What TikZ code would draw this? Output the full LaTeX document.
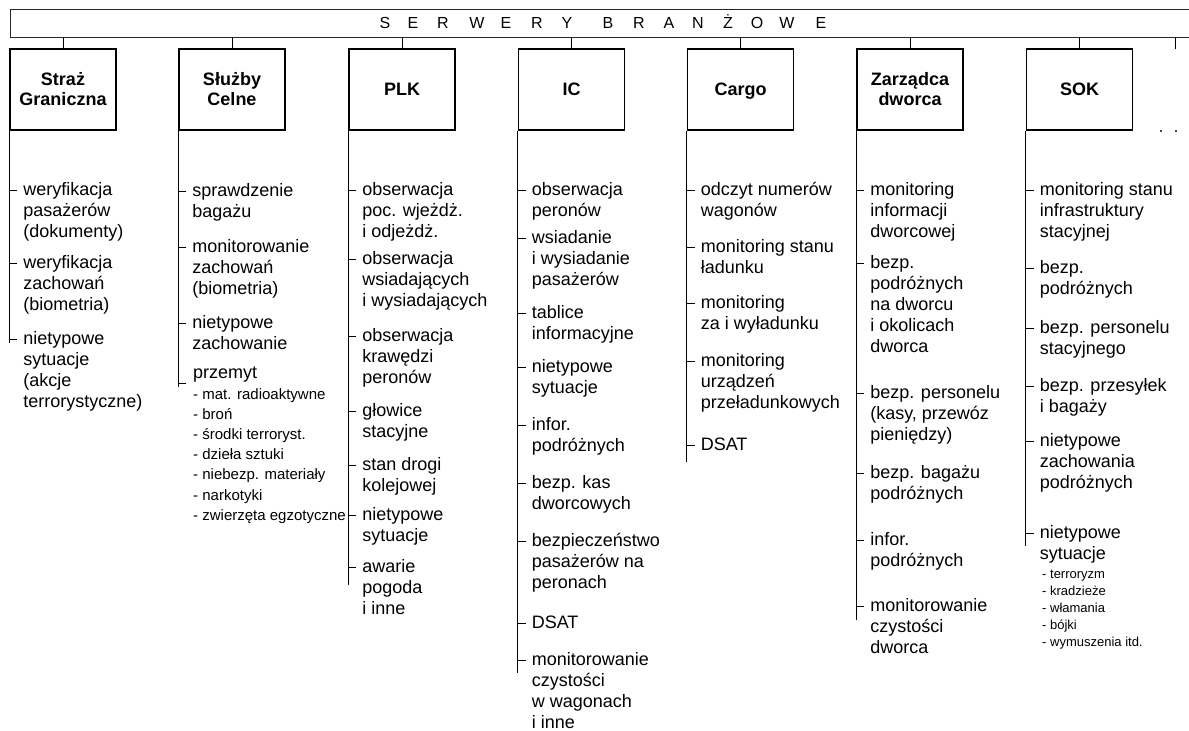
\documentclass[tikz,border=0pt]{standalone}
\usepackage{fontspec}
\setmainfont{Liberation Sans}
\newcommand{\rows}[1]{\begin{tabular}[t]{@{}l@{}}#1\end{tabular}}
\tikzset{
  server/.style={draw, line width=1.8pt, minimum width=106pt, minimum height=81pt,
    inner sep=0pt, align=center, font=\bfseries\fontsize{18}{20}\selectfont},
  task/.style={anchor=base west, inner sep=0pt, font=\fontsize{18}{21}\selectfont},
  subtask/.style={anchor=base west, inner sep=0pt, font=\fontsize{15}{20.2}\selectfont},
  smalltask/.style={anchor=base west, inner sep=0pt, font=\fontsize{13}{17}\selectfont},
  letter/.style={anchor=base, inner sep=0pt, font=\fontsize{16}{16}\selectfont},
  branch/.style={line width=1pt},
  dotmark/.style={circle, fill, inner sep=0pt, minimum size=2.4pt},
}
% one column of tasks under a server box
\newcommand{\tasks}[2]{%
  \foreach \y/\t [count=\i] in {#2}{%
    \coordinate (#1t\i) at (#1.south west |- 0,\y);
    \draw[branch] (#1t\i) -- ++(8,0);
    \node[task] (#1n\i) at ([shift={(14,5)}]#1t\i) {\rows{\t}};
  }}
\begin{document}
\begin{tikzpicture}[x=1pt,y=-1pt]
\useasboundingbox (0,0) rectangle (1189,731);

% top bar
\coordinate (barNW) at (10,9);
\coordinate (barSW) at (10,37);
\draw[line width=0.8pt, black!85] (1189,9) -- (barNW) -- (barSW) -- (1189,37);
\foreach \ch/\x [count=\k] in {S/385,E/413,R/443,W/477,E/506,R/537,Y/567,
    B/608,R/639,A/669,N/698,Ż/728,O/757,W/787,E/821}
  \node[letter] (h\k) at (\x,28.5) {\ch};

% servers
\node[server] (sg) at (63,89.5) {Straż\\Graniczna};
\node[server] (sc) at (232,89.5) {Służby\\Celne};
\node[server] (plk) at (402,89.5) {PLK};
\node[server] (ic) at (571.5,89.5) {IC};
\node[server, text depth=0pt] (cargo) at (740.5,89.5) {Cargo};
\node[server] (zd) at (910,89.5) {Zarządca\\dworca};
\node[server] (sok) at (1079.5,89.5) {SOK};
\foreach \b in {sg,sc,plk,ic,cargo,zd,sok}
  \draw (\b.north) -- (\b.north |- barSW);
\coordinate (more) at (1175,49);
\draw (more) -- (more |- barSW);
\node[dotmark] (etc1) at (1161,131) {};
\node[dotmark] (etc2) at (1176,131) {};

% columns
\draw[branch] (sg.south west) -- (sg.south west |- 0,343);
\draw[branch] (sc.south west) -- (sc.south west |- 0,387);
\draw[branch] (plk.south west) -- (plk.south west |- 0,585);
\draw[branch] (ic.south west) -- (ic.south west |- 0,673);
\draw[branch] (cargo.south west) -- (cargo.south west |- 0,462);
\draw[branch] (zd.south west) -- (zd.south west |- 0,620);
\draw[branch] (sok.south west) -- (sok.south west |- 0,546);

\tasks{sg}{190/{weryfikacja\\pasażerów\\(dokumenty)},
  263/{weryfikacja\\zachowań\\(biometria)},
  339/{nietypowe\\sytuacje\\(akcje\\terrorystyczne)}}

\tasks{sc}{191/{sprawdzenie\\bagażu},
  247/{monitorowanie\\zachowań\\(biometria)},
  323/{nietypowe\\zachowanie}}
\coordinate (sct4) at (sc.south west |- 0,383);
\draw[branch] (sct4) -- ++(8,0);
\node[task] (scn4) at (193,378) {przemyt};
\node[subtask] (contraband) at (193,399) {\rows{- mat. radioaktywne\\- broń\\- środki terroryst.\\- dzieła sztuki\\- niebezp. materiały\\- narkotyki\\- zwierzęta egzotyczne}};

\tasks{plk}{190/{obserwacja\\poc. wjeżdż.\\i odjeżdż.},
  259/{obserwacja\\wsiadających\\i wysiadających},
  336/{obserwacja\\krawędzi\\peronów},
  411/{głowice\\stacyjne},
  465/{stan drogi\\kolejowej},
  515/{nietypowe\\sytuacje},
  567/{awarie\\pogoda\\i inne}}

\tasks{ic}{190/{obserwacja\\peronów},
  238/{wsiadanie\\i wysiadanie\\pasażerów},
  313/{tablice\\informacyjne},
  367/{nietypowe\\sytuacje},
  425/{infor.\\podróżnych},
  483/{bezp. kas\\dworcowych},
  541/{bezpieczeństwo\\pasażerów na\\peronach},
  623/{DSAT},
  660/{monitorowanie\\czystości\\w wagonach\\i inne}}

\tasks{cargo}{190/{odczyt numerów\\wagonów},
  247/{monitoring stanu\\ładunku},
  303/{monitoring\\za i wyładunku},
  361/{monitoring\\urządzeń\\przeładunkowych},
  445/{DSAT}}

\tasks{zd}{190/{monitoring\\informacji\\dworcowej},
  263/{bezp.\\podróżnych\\na dworcu\\i okolicach\\dworca},
  393/{bezp. personelu\\(kasy, przewóz\\pieniędzy)},
  473/{bezp. bagażu\\podróżnych},
  540/{infor.\\podróżnych},
  606/{monitorowanie\\czystości\\dworca}}

\tasks{sok}{190/{monitoring stanu\\infrastruktury\\stacyjnej},
  268/{bezp.\\podróżnych},
  328/{bezp. personelu\\stacyjnego},
  386/{bezp. przesyłek\\i bagaży},
  441/{nietypowe\\zachowania\\podróżnych},
  533/{nietypowe\\sytuacje}}
\node[smalltask] (risks) at (1042,578) {\rows{- terroryzm\\- kradzieże\\- włamania\\- bójki\\- wymuszenia itd.}};
\end{tikzpicture}
\end{document}
